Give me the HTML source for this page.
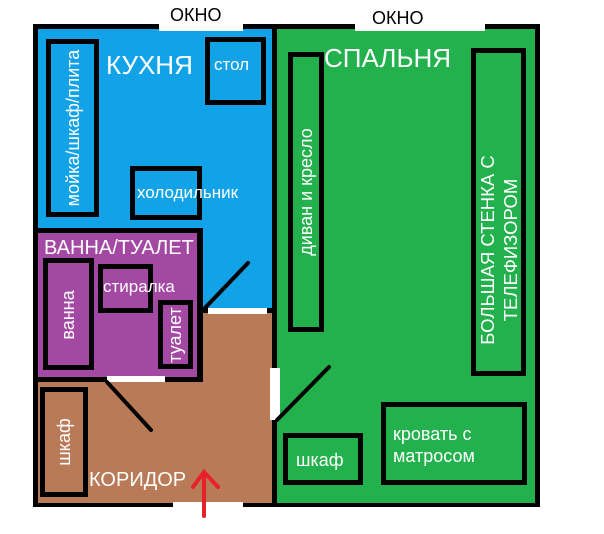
<!DOCTYPE html>
<html><head><meta charset="utf-8"><style>
body{margin:0;width:604px;height:534px;background:#fff;overflow:hidden;position:relative;font-family:"Liberation Sans",sans-serif}
div{position:absolute;box-sizing:border-box}
.b{border:5px solid #000}
.t{color:#fff;white-space:nowrap}
.r{transform:rotate(-90deg);transform-origin:center;display:flex;align-items:center;justify-content:center;text-align:center}
</style></head><body>
<div style="left:33px;top:24px;width:507px;height:483px;background:#000"></div>
<div style="left:38px;top:29px;width:234px;height:279px;background:#12a2e8"></div>
<div style="left:277px;top:29px;width:258px;height:474px;background:#22b14c"></div>
<div style="left:38px;top:313px;width:234px;height:190px;background:#b97a57"></div>
<div style="left:38px;top:228px;width:165px;height:154px;background:#000"></div>
<div style="left:38px;top:233px;width:159px;height:144px;background:#a349a4"></div>
<div style="left:159px;top:0;width:84px;height:31px;background:#fff"></div>
<div style="left:355px;top:0;width:130px;height:31px;background:#fff"></div>
<div style="left:173px;top:502px;width:70px;height:10px;background:#fff"></div>
<div style="left:107px;top:376px;width:58px;height:6px;background:#fff"></div>
<div style="left:208px;top:308px;width:59px;height:6px;background:#fff"></div>
<div style="left:270px;top:368px;width:10px;height:52px;background:#fff"></div>
<svg style="position:absolute;left:0;top:0" width="604" height="534">
<g stroke="#000" stroke-width="4" stroke-linecap="round">
<line x1="203" y1="310" x2="248" y2="263"/>
<line x1="107" y1="382" x2="151" y2="430"/>
<line x1="277" y1="420" x2="329" y2="367"/>
</g>
<g stroke="#e8202a" stroke-width="4" fill="none" stroke-linecap="round">
<line x1="204" y1="472" x2="204" y2="516"/>
<polyline points="193,487 204,472 218,487"/>
</g>
</svg>
<div class="t" style="left:170px;top:5px;color:#000;font-size:18px">ОКНО</div>
<div class="t" style="left:372px;top:8px;color:#000;font-size:18px">ОКНО</div>
<div class="b" style="left:46px;top:39px;width:53px;height:178px"></div>
<div class="t r" style="left:-16px;top:116px;width:178px;height:24px;font-size:18px">мойка/шкаф/плита</div>
<div class="t" style="left:106px;top:50px;font-size:26px">КУХНЯ</div>
<div class="b" style="left:205px;top:37px;width:61px;height:68px"></div>
<div class="t" style="left:214px;top:55px;font-size:17px">стол</div>
<div class="b" style="left:130px;top:166px;width:72px;height:54px"></div>
<div class="t" style="left:137px;top:183px;font-size:17px">холодильник</div>
<div class="t" style="left:44px;top:237px;font-size:20px">ВАННА/ТУАЛЕТ</div>
<div class="b" style="left:43px;top:258px;width:51px;height:112px"></div>
<div class="t r" style="left:13px;top:303px;width:110px;height:24px;font-size:18px">ванна</div>
<div class="b" style="left:98px;top:264px;width:55px;height:49px"></div>
<div class="t" style="left:103px;top:277px;font-size:17px">стиралка</div>
<div class="b" style="left:158px;top:300px;width:35px;height:69px"></div>
<div class="t r" style="left:142px;top:323px;width:66px;height:24px;font-size:18px">туалет</div>
<div class="b" style="left:40px;top:387px;width:48px;height:110px"></div>
<div class="t r" style="left:9px;top:430px;width:110px;height:24px;font-size:18px">шкаф</div>
<div class="t" style="left:89px;top:469px;font-size:20px">КОРИДОР</div>
<div class="t" style="left:324px;top:43px;font-size:26px">СПАЛЬНЯ</div>
<div class="b" style="left:288px;top:52px;width:36px;height:280px"></div>
<div class="t r" style="left:166px;top:180px;width:280px;height:24px;font-size:18px">диван и кресло</div>
<div class="b" style="left:471px;top:48px;width:55px;height:328px"></div>
<div class="t r" style="left:335px;top:225px;width:328px;height:50px;font-size:18.5px;line-height:23px">БОЛЬШАЯ СТЕНКА С<br>ТЕЛЕФИЗОРОМ</div>
<div class="b" style="left:283px;top:433px;width:80px;height:52px"></div>
<div class="t" style="left:296px;top:450px;font-size:18px">шкаф</div>
<div class="b" style="left:381px;top:402px;width:146px;height:83px"></div>
<div class="t" style="left:393px;top:423px;font-size:18px;line-height:22px">кровать с<br>матросом</div>
</body></html>
